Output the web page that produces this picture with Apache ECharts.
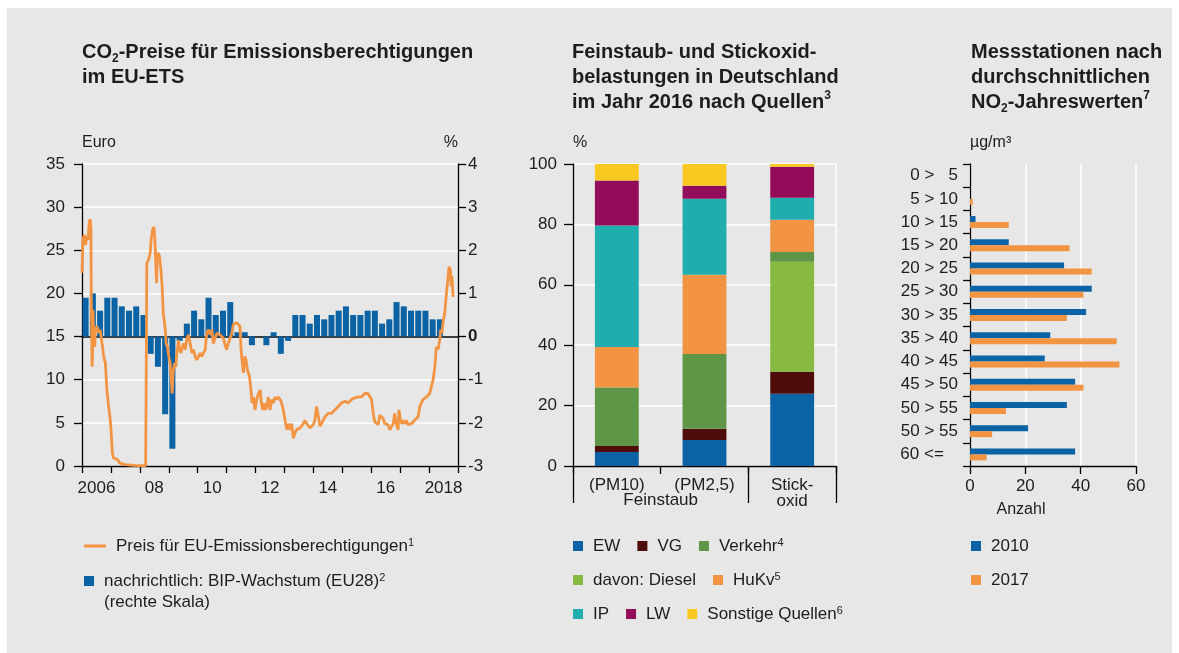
<!DOCTYPE html>
<html>
<head>
<meta charset="utf-8">
<script src="https://cdn.jsdelivr.net/npm/echarts@6/dist/echarts.min.js"></script>
<style>
  html, body { margin: 0; padding: 0; background: #fff; }
  #main { width: 1179px; height: 653px; }
</style>
</head>
<body>
<div id="main"></div>
<script>
var FONT = '"Liberation Sans", Arial, sans-serif'
var COND = '"Liberation Sans Narrow", "Liberation Sans", Arial, sans-serif'
var INK = '#1d1d1b'
var BLUE = '#0b63a5'
var ORANGE = '#f39443'

// --- Chart 1: CO2-Preise / BIP-Wachstum ---
var years = ['2006', '2007', '2008', '2009', '2010', '2011', '2012', '2013', '2014', '2015', '2016', '2017', '2018']
// BIP-Wachstum EU28, % gg. Vorquartal, 2006 Q1 .. 2018 Q2
var bip = [0.9, 1.0, 0.6, 0.9, 0.9, 0.7, 0.6, 0.7, 0.5, -0.4, -0.7, -1.8, -2.6,
  -0.1, 0.3, 0.6, 0.4, 0.9, 0.5, 0.6, 0.8, 0.1, 0.1, -0.2, 0, -0.2, 0.1, -0.4,
  -0.1, 0.5, 0.5, 0.3, 0.5, 0.4, 0.5, 0.6, 0.7, 0.5, 0.5, 0.6, 0.6, 0.3, 0.4,
  0.8, 0.7, 0.6, 0.6, 0.6, 0.4, 0.4]
// Preis je Emissionsberechtigung in Euro: [Zeit in Jahren, Euro]
var priceLine = [
  [2006.00, 22.4], [2006.03, 26.2], [2006.08, 26.8], [2006.12, 25.6], [2006.17, 26.6],
  [2006.21, 26.2], [2006.25, 28.3], [2006.29, 28.6], [2006.31, 27.4], [2006.32, 19.6],
  [2006.35, 11.5], [2006.37, 13.8], [2006.38, 18.1], [2006.40, 15.8], [2006.44, 13.8],
  [2006.46, 15.8], [2006.52, 16.2], [2006.58, 15.4], [2006.63, 15.8], [2006.69, 15.8],
  [2006.75, 12.7], [2006.81, 11.9], [2006.86, 8.8], [2006.92, 6.9], [2006.98, 5.3],
  [2007.01, 3.8], [2007.05, 1.5], [2007.09, 0.9], [2007.15, 1.1], [2007.21, 0.8],
  [2007.32, 0.3], [2007.50, 0.15], [2007.78, 0.08], [2008.01, 0.04], [2008.20, 0.04],
  [2008.22, 10.0], [2008.24, 23.5], [2008.30, 23.9], [2008.36, 24.7], [2008.39, 26.2],
  [2008.44, 27.4], [2008.49, 27.7], [2008.52, 26.2], [2008.55, 23.5], [2008.58, 21.2],
  [2008.60, 24.3], [2008.63, 24.7], [2008.68, 24.3], [2008.73, 22.7], [2008.77, 20.8],
  [2008.81, 17.7], [2008.84, 16.9], [2008.88, 15.8], [2008.91, 14.2], [2008.96, 13.8],
  [2009.00, 12.7], [2009.05, 11.9], [2009.08, 10.4], [2009.12, 8.4], [2009.15, 10.8],
  [2009.20, 11.9], [2009.24, 11.5], [2009.28, 13.1], [2009.34, 14.6], [2009.37, 13.5],
  [2009.42, 13.1], [2009.47, 13.8], [2009.51, 14.2], [2009.57, 13.5], [2009.62, 14.6],
  [2009.68, 15.2], [2009.74, 14.2], [2009.80, 13.1], [2009.85, 13.5], [2009.91, 12.7],
  [2009.97, 12.3], [2010.03, 12.7], [2010.08, 13.1], [2010.14, 12.7], [2010.20, 12.5],
  [2010.26, 13.5], [2010.31, 15.4], [2010.37, 15.8], [2010.43, 15.2], [2010.49, 15.8],
  [2010.54, 14.2], [2010.60, 14.8], [2010.66, 15.4], [2010.72, 15.6], [2010.77, 15.2],
  [2010.83, 15.4], [2010.89, 14.8], [2010.95, 14.0], [2011.00, 13.5], [2011.06, 14.2],
  [2011.12, 14.8], [2011.18, 15.4], [2011.23, 16.4], [2011.29, 16.6], [2011.35, 16.6],
  [2011.41, 16.4], [2011.46, 16.2], [2011.50, 13.5], [2011.53, 12.3], [2011.58, 10.8],
  [2011.63, 12.7], [2011.67, 12.3], [2011.72, 11.1], [2011.79, 10.4], [2011.83, 9.2],
  [2011.88, 7.3], [2011.93, 8.0], [2011.98, 6.5], [2012.04, 7.7], [2012.10, 8.4],
  [2012.16, 8.8], [2012.20, 7.3], [2012.25, 6.5], [2012.29, 7.3], [2012.34, 6.5],
  [2012.39, 6.9], [2012.44, 8.0], [2012.50, 6.5], [2012.56, 7.7], [2012.62, 7.3],
  [2012.67, 8.0], [2012.73, 7.7], [2012.79, 8.0], [2012.85, 7.7], [2012.90, 7.3],
  [2012.96, 6.5], [2013.02, 5.3], [2013.08, 4.2], [2013.13, 4.9], [2013.19, 4.2],
  [2013.25, 4.9], [2013.31, 3.2], [2013.36, 3.8], [2013.42, 4.2], [2013.48, 4.0],
  [2013.54, 4.4], [2013.59, 4.6], [2013.65, 4.9], [2013.71, 5.3], [2013.77, 4.9],
  [2013.82, 4.8], [2013.88, 4.4], [2013.94, 4.6], [2014.00, 4.8], [2014.05, 5.3],
  [2014.11, 6.9], [2014.17, 6.9], [2014.23, 4.6], [2014.28, 4.9], [2014.34, 5.1],
  [2014.40, 5.7], [2014.46, 5.7], [2014.51, 6.1], [2014.57, 6.3], [2014.63, 6.1],
  [2014.69, 5.9], [2014.74, 6.5], [2014.80, 6.7], [2014.86, 6.9], [2014.92, 7.1],
  [2014.97, 7.3], [2015.03, 7.1], [2015.09, 7.5], [2015.15, 7.7], [2015.20, 7.3],
  [2015.26, 7.5], [2015.32, 7.7], [2015.38, 7.5], [2015.43, 7.9], [2015.49, 7.7],
  [2015.55, 8.0], [2015.61, 8.2], [2015.66, 8.0], [2015.72, 8.2], [2015.78, 8.4],
  [2015.84, 8.6], [2015.89, 8.4], [2015.95, 8.2], [2016.01, 7.7], [2016.07, 6.1],
  [2016.12, 5.1], [2016.18, 4.9], [2016.24, 4.8], [2016.30, 5.9], [2016.35, 6.1],
  [2016.41, 5.5], [2016.47, 4.9], [2016.53, 4.8], [2016.58, 4.8], [2016.64, 4.2],
  [2016.70, 4.0], [2016.76, 4.9], [2016.81, 6.1], [2016.87, 4.9], [2016.93, 4.2],
  [2016.96, 6.5], [2017.01, 5.3], [2017.06, 4.9], [2017.10, 5.3], [2017.16, 4.9],
  [2017.22, 5.3], [2017.27, 4.8], [2017.33, 4.6], [2017.39, 4.9], [2017.45, 5.1],
  [2017.50, 5.3], [2017.56, 5.5], [2017.62, 5.7], [2017.68, 6.9], [2017.73, 7.3],
  [2017.79, 7.7], [2017.85, 7.5], [2017.91, 8.0], [2017.97, 8.0], [2018.02, 8.4],
  [2018.08, 9.2], [2018.14, 10.0], [2018.20, 11.5], [2018.25, 13.8], [2018.31, 13.5],
  [2018.37, 14.6], [2018.40, 15.8], [2018.45, 15.4], [2018.48, 16.6], [2018.54, 17.7],
  [2018.60, 20.0], [2018.66, 22.0], [2018.69, 23.1], [2018.74, 22.7], [2018.76, 20.8],
  [2018.79, 22.0], [2018.83, 19.6]
]

// --- Chart 2: Quellen in % ---
var sourceLabels = ['(PM10)', '(PM2,5)', 'Stick-\noxid']
var ew = [4.6, 8.6, 23.9]
var vg = [2.0, 3.7, 7.3]
var diesel = [0, 0, 36.4]
var verkehr = [19.4, 24.8, 3.3]
var hukv = [13.4, 26.2, 10.6]
var ip = [40.2, 25.2, 7.3]
var lw = [14.9, 4.3, 10.3]
var sonstige = [5.5, 7.2, 0.9]

// --- Chart 3: Messstationen je NO2-Klasse ---
var classes = ['0 >   5', '5 > 10', '10 > 15', '15 > 20', '20 > 25', '25 > 30', '30 > 35',
  '35 > 40', '40 > 45', '45 > 50', '50 > 55', '50 > 55\u200b', '60 <=   ']
var stations2010 = [0, 0, 2, 14, 34, 44, 42, 29, 27, 38, 35, 21, 38]
var stations2017 = [0, 1, 14, 36, 44, 41, 35, 53, 54, 41, 13, 8, 6]

var quarters = []
years.forEach(function(y) {
  ;[1, 2, 3, 4].forEach(function(q) {
    quarters.push(y + ' Q' + q)
  })
})

var axisLine = { show: true, onZero: false, lineStyle: { color: '#000', width: 1.3 } }
var tickStyle = { color: '#000', width: 1.3 }
var labelStyle = { fontFamily: FONT, fontSize: 17, color: INK }
var whiteSplit = { show: true, lineStyle: { color: '#fff', width: 1.5 } }
var nameStyle = { fontFamily: FONT, fontSize: 16, color: INK, align: 'left' }

var titleRich = {
  b: { fontFamily: COND, fontSize: 20, fontWeight: 'bold', color: INK, lineHeight: 25 },
  sub: { fontFamily: COND, fontSize: 12, fontWeight: 'bold', color: INK, lineHeight: 12, verticalAlign: 'bottom' },
  sup: { fontFamily: COND, fontSize: 12, fontWeight: 'bold', color: INK, lineHeight: 12, verticalAlign: 'top' }
}

var supOf = {
  'Preis für EU-Emissionsberechtigungen': '1',
  'nachrichtlich: BIP-Wachstum (EU28)': '2',
  Verkehr: '4',
  HuKv: '5',
  'Sonstige Quellen': '6'
}
var legendText = {
  fontFamily: COND, fontSize: 17, color: INK, lineHeight: 18, padding: [0, 0, 0, 5],
  rich: { sup: { fontFamily: COND, fontSize: 11, color: INK, lineHeight: 9, verticalAlign: 'top' } }
}
function legendRow(names, left, top, extra) {
  var l = {
    left: left, top: top, orient: 'horizontal', padding: 0,
    data: names, icon: 'rect', itemWidth: 10, itemHeight: 10, itemGap: 17,
    textStyle: legendText,
    formatter: function(name) {
      return supOf[name] ? name + '{sup|' + supOf[name] + '}' : name
    }
  }
  for (var k in extra || {}) l[k] = extra[k]
  return l
}

function stackBar(name, data, color) {
  return {
    name: name, type: 'bar', stack: 'quellen', xAxisIndex: 3, yAxisIndex: 2,
    data: data, barWidth: '50%', itemStyle: { color: color }
  }
}

var option = {
  animation: false,
  backgroundColor: '#fff',
  graphic: [{
    type: 'rect', left: 7, top: 8, z: -100, silent: true,
    shape: { width: 1165, height: 645 }, style: { fill: '#e7e7e7' }
  }],
  title: [
    { left: 82, top: 40, padding: 0, text: '{b|CO}{sub|2}{b|-Preise für Emissionsberechtigungen}\n{b|im EU-ETS}', textStyle: { rich: titleRich } },
    { left: 572, top: 40, padding: 0, text: '{b|Feinstaub- und Stickoxid-}\n{b|belastungen in Deutschland}\n{b|im Jahr 2016 nach Quellen}{sup|3}', textStyle: { rich: titleRich } },
    { left: 971, top: 40, padding: 0, text: '{b|Messstationen nach}\n{b|durchschnittlichen}\n{b|NO}{sub|2}{b|-Jahreswerten}{sup|7}', textStyle: { rich: titleRich } },
    { left: 104, top: 594, padding: 0, text: '(rechte Skala)', textStyle: { fontFamily: COND, fontSize: 17, fontWeight: 'normal', color: INK } }
  ],
  legend: [
    legendRow(['Preis für EU-Emissionsberechtigungen'], 84, 537, { icon: 'roundRect', itemWidth: 22, itemHeight: 3 }),
    legendRow(['nachrichtlich: BIP-Wachstum (EU28)'], 84, 572),
    legendRow(['EW', 'VG', 'Verkehr'], 573, 537),
    legendRow(['davon: Diesel', 'HuKv'], 573, 571),
    legendRow(['IP', 'LW', 'Sonstige Quellen'], 573, 605),
    legendRow(['2010', '2017'], 971, 537, { orient: 'vertical', itemGap: 16 })
  ],
  grid: [
    { left: 82, top: 164, width: 376, height: 302 },
    { left: 573, top: 164, width: 263, height: 302 },
    { left: 970, top: 164, width: 166, height: 302 }
  ],
  xAxis: [
    {
      gridIndex: 0, type: 'category', position: 'bottom', data: years, boundaryGap: true,
      axisLine: axisLine,
      axisTick: { show: true, interval: 0, length: 7, lineStyle: tickStyle },
      axisLabel: Object.assign({}, labelStyle, {
        interval: 1, margin: 14,
        formatter: function(v) {
          return v === '2006' || v === '2018' ? v : v.slice(2)
        }
      }),
      splitLine: { show: false }
    },
    {
      gridIndex: 0, type: 'category', position: 'top', data: quarters, boundaryGap: true,
      axisLine: { show: true, onZero: true, onZeroAxisIndex: 1, lineStyle: { color: '#000', width: 1.5 } },
      axisTick: { show: false }, axisLabel: { show: false }, splitLine: { show: false }
    },
    { gridIndex: 0, type: 'value', position: 'bottom', min: 2006, max: 2019, show: false },
    {
      gridIndex: 1, type: 'category', position: 'bottom', data: sourceLabels,
      axisLine: axisLine,
      axisTick: { show: true, interval: 0, length: 8, lineStyle: tickStyle },
      axisLabel: Object.assign({}, labelStyle, { interval: 0, margin: 11, lineHeight: 16 }),
      splitLine: { show: false }
    },
    {
      gridIndex: 1, type: 'value', position: 'bottom', min: 0, max: 3,
      axisLine: { show: false, onZero: false },
      axisTick: { show: true, customValues: [0, 2, 3], length: 37, lineStyle: tickStyle },
      axisLabel: Object.assign({}, labelStyle, {
        customValues: [1], margin: 26, lineHeight: 16,
        formatter: function() { return 'Feinstaub' }
      }),
      splitLine: { show: false }
    },
    {
      gridIndex: 2, type: 'value', position: 'bottom', min: 0, max: 60, interval: 20,
      name: 'Anzahl', nameLocation: 'middle', nameGap: 36,
      nameTextStyle: { fontFamily: FONT, fontSize: 16, color: INK, padding: [0, 64, 0, 0] },
      axisLine: axisLine,
      axisTick: { show: true, length: 8, lineStyle: tickStyle },
      axisLabel: Object.assign({}, labelStyle, { margin: 12 }),
      splitLine: whiteSplit
    }
  ],
  yAxis: [
    {
      gridIndex: 0, type: 'value', position: 'left', min: 0, max: 35, interval: 5,
      name: 'Euro', nameLocation: 'end', nameGap: 13, nameTextStyle: nameStyle,
      axisLine: axisLine,
      axisTick: { show: true, length: 8, lineStyle: tickStyle },
      axisLabel: Object.assign({}, labelStyle, { margin: 17 }),
      splitLine: whiteSplit
    },
    {
      gridIndex: 0, type: 'value', position: 'right', min: -3, max: 4, interval: 1,
      name: '%', nameLocation: 'end', nameGap: 13,
      nameTextStyle: { fontFamily: FONT, fontSize: 16, color: INK, align: 'right' },
      axisLine: axisLine,
      axisTick: { show: true, length: 8, lineStyle: tickStyle },
      axisLabel: Object.assign({}, labelStyle, {
        margin: 10,
        formatter: function(v) { return v === 0 ? '{b|0}' : String(v) },
        rich: { b: { fontFamily: FONT, fontSize: 17, fontWeight: 'bold', color: INK } }
      }),
      splitLine: { show: false }
    },
    {
      gridIndex: 1, type: 'value', position: 'left', min: 0, max: 100, interval: 20,
      name: '%', nameLocation: 'end', nameGap: 13, nameTextStyle: nameStyle,
      axisLine: axisLine,
      axisTick: { show: true, length: 9, lineStyle: tickStyle },
      axisLabel: Object.assign({}, labelStyle, { margin: 16 }),
      splitLine: whiteSplit
    },
    {
      gridIndex: 1, type: 'value', position: 'right', min: 0, max: 100,
      axisLine: { show: true, onZero: false, lineStyle: { color: '#fff', width: 1.5 } },
      axisTick: { show: false }, axisLabel: { show: false }, splitLine: { show: false }
    },
    {
      gridIndex: 2, type: 'category', position: 'left', inverse: true, data: classes,
      name: 'µg/m³', nameLocation: 'start', nameGap: 13, nameTextStyle: nameStyle,
      axisLine: axisLine,
      axisTick: { show: true, interval: 0, length: 7, lineStyle: tickStyle },
      axisLabel: Object.assign({}, labelStyle, { interval: 0, margin: 12 }),
      splitLine: { show: false }
    }
  ],
  series: [
    {
      name: 'nachrichtlich: BIP-Wachstum (EU28)', type: 'bar', xAxisIndex: 1, yAxisIndex: 1,
      data: bip, barCategoryGap: '17%', itemStyle: { color: BLUE }, z: 2
    },
    {
      name: 'Preis für EU-Emissionsberechtigungen', type: 'line', xAxisIndex: 2, yAxisIndex: 0,
      data: priceLine, symbol: 'none', lineStyle: { color: ORANGE, width: 2.8 },
      itemStyle: { color: ORANGE }, z: 3
    },
    stackBar('EW', ew, BLUE),
    stackBar('VG', vg, '#4e0c0b'),
    stackBar('davon: Diesel', diesel, '#88b940'),
    stackBar('Verkehr', verkehr, '#5c9646'),
    stackBar('HuKv', hukv, ORANGE),
    stackBar('IP', ip, '#1fadad'),
    stackBar('LW', lw, '#930c59'),
    stackBar('Sonstige Quellen', sonstige, '#f9c922'),
    {
      name: '2010', type: 'bar', xAxisIndex: 5, yAxisIndex: 4, data: stations2010,
      barWidth: 6, barGap: '0%', itemStyle: { color: BLUE }
    },
    {
      name: '2017', type: 'bar', xAxisIndex: 5, yAxisIndex: 4, data: stations2017,
      barWidth: 6, barGap: '0%', itemStyle: { color: ORANGE }
    }
  ]
}

var chart = echarts.init(document.getElementById('main'))
chart.setOption(option)
</script>
</body>
</html>
